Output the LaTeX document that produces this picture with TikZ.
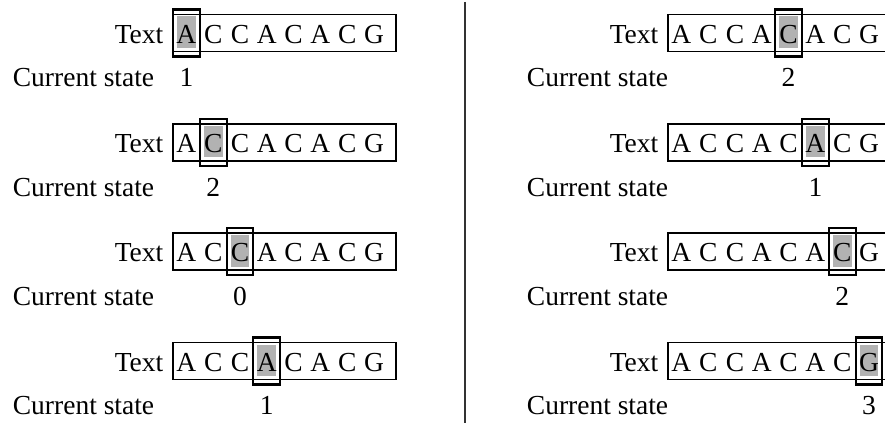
\documentclass[tikz,border=0pt]{standalone}
\usepackage{fontspec}
\setmainfont{Liberation Serif}
\tikzset{
  lbl/.style={font=\fontsize{27.5}{30}\selectfont, inner sep=0pt},
  letter/.style={lbl, anchor=base},
  seqbox/.style={draw, line width=1.8pt},
  hlframe/.style={draw, line width=2.1pt},
  hlfill/.style={fill=black!30},
  divider/.style={line width=2.2pt, draw=black!80},
}
\newcommand{\seqrow}[6]{%
  \pgfmathsetmacro{\fl}{#2+26.8*(#5-1)}%
  \pgfmathsetmacro{\fr}{#2+26.8*#5}%
  \fill[hlfill] (\fl+4,#4-16.5) rectangle (\fr-4,#4+15);
  \draw[seqbox] (#2,#4-18.5) rectangle (#2+223,#4+18.5);
  \draw[hlframe] (\fl,#4-23.5) rectangle (\fr,#4+23.5);
  \node[lbl, anchor=base east] (#1-t) at (#2-9.5,#4+10.3) {Text};
  \foreach \c [count=\i] in {A,C,C,A,C,A,C,G} {
    \node[letter] (#1-\i) at (#2+26.8*\i-13.4,#4+10.3) {\c};
  }
  \node[lbl, anchor=base west] (#1-cs) at (#3,#4+53.7) {Current state};
  \node[letter] (#1-n) at (#2+26.8*#5-13.4,#4+53.7) {#6};
}
\begin{document}
\begin{tikzpicture}[x=1pt,y=-1pt]
  \useasboundingbox (0,0) rectangle (885,425);
  \clip (0,0) rectangle (885,425);
  \seqrow{l1}{173}{12.7}{33}{1}{1}
  \seqrow{l2}{173}{12.7}{142.3}{2}{2}
  \seqrow{l3}{173}{12.7}{251.6}{3}{0}
  \seqrow{l4}{173}{12.7}{361}{4}{1}
  \seqrow{r1}{668}{526.7}{33}{5}{2}
  \seqrow{r2}{668}{526.7}{142.3}{6}{1}
  \seqrow{r3}{668}{526.7}{251.6}{7}{2}
  \seqrow{r4}{668}{526.7}{361}{8}{3}
  \coordinate (dtop) at (465,2);
  \coordinate (dbot) at (465,423);
  \draw[divider] (dtop) -- (dbot);
\end{tikzpicture}
\end{document}
